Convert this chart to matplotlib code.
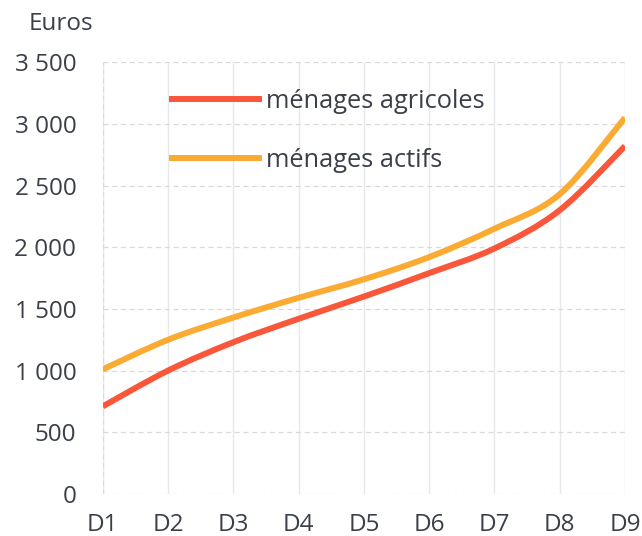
import numpy as np
import matplotlib.pyplot as plt
from matplotlib.path import Path
from matplotlib.patches import PathPatch

# deciles and monthly amounts (euros)
deciles = ["D1", "D2", "D3", "D4", "D5", "D6", "D7", "D8", "D9"]
agricoles = [710, 1000, 1230, 1420, 1600, 1790, 1990, 2300, 2820]
actifs = [1010, 1250, 1430, 1590, 1740, 1920, 2150, 2430, 3050]
yticks = [0, 500, 1000, 1500, 2000, 2500, 3000, 3500]

plt.rcParams['font.family'] = ['Open Sans', 'DejaVu Sans']
TXT = "#3a3f48"
FS = 17.5


def smooth_path(x, y):
    # Catmull-Rom through the points, drawn as cubic Bezier segments
    x = np.asarray(x, float)
    y = np.asarray(y, float)
    verts = [(x[0], y[0])]
    codes = [Path.MOVETO]
    n = len(x)
    for i in range(n - 1):
        i0 = max(i - 1, 0)
        i3 = min(i + 2, n - 1)
        c1 = (x[i] + (x[i + 1] - x[i0]) / 6, y[i] + (y[i + 1] - y[i0]) / 6)
        c2 = (x[i + 1] - (x[i3] - x[i]) / 6, y[i + 1] - (y[i3] - y[i]) / 6)
        verts += [c1, c2, (x[i + 1], y[i + 1])]
        codes += [Path.CURVE4] * 3
    return Path(verts, codes)


fig = plt.figure(figsize=(6.42, 5.36), dpi=100)
ax = fig.add_axes([0.160, 0.0784, 0.8135, 0.8056])

xs = np.arange(len(deciles))
series = [("ménages agricoles", agricoles, "#F9563A"),
          ("ménages actifs", actifs, "#FBAA32")]
for label, vals, col in series:
    ax.add_patch(PathPatch(smooth_path(xs, vals), fill=False, edgecolor=col,
                           lw=4.3, capstyle="butt", joinstyle="round", zorder=3))
    ax.plot([], [], color=col, lw=4.3, label=label)

ax.set_xlim(0, len(deciles) - 1)
ax.set_ylim(0, 3500)
ax.set_xticks(xs)
ax.set_xticklabels(deciles)
ax.set_yticks(yticks)
ax.set_yticklabels([f"{v:,}".replace(",", " ") for v in yticks])
ax.tick_params(length=0, labelsize=FS, colors=TXT)
ax.tick_params(axis="y", pad=19)
ax.tick_params(axis="x", pad=14)

for s in ax.spines.values():
    s.set_visible(False)
ax.yaxis.grid(True, color="#d9d9d9", ls=(0, (4, 3)), lw=0.9)
ax.xaxis.grid(True, color="#e6e9ec", ls="-", lw=1.0)
ax.axvline(0, color="#d9d9d9", ls=(0, (4, 3)), lw=0.9)
ax.set_axisbelow(True)

fig.text(0.045, 0.955, "Euros", fontsize=FS, color=TXT, va="center")

leg = ax.legend(loc="upper left", bbox_to_anchor=(0.114, 0.962), frameon=False,
                fontsize=18.3, handlelength=3.4, handletextpad=0.3,
                labelspacing=1.35, borderaxespad=0)
for t in leg.get_texts():
    t.set_color(TXT)

fig.savefig("out.png", dpi=100)
